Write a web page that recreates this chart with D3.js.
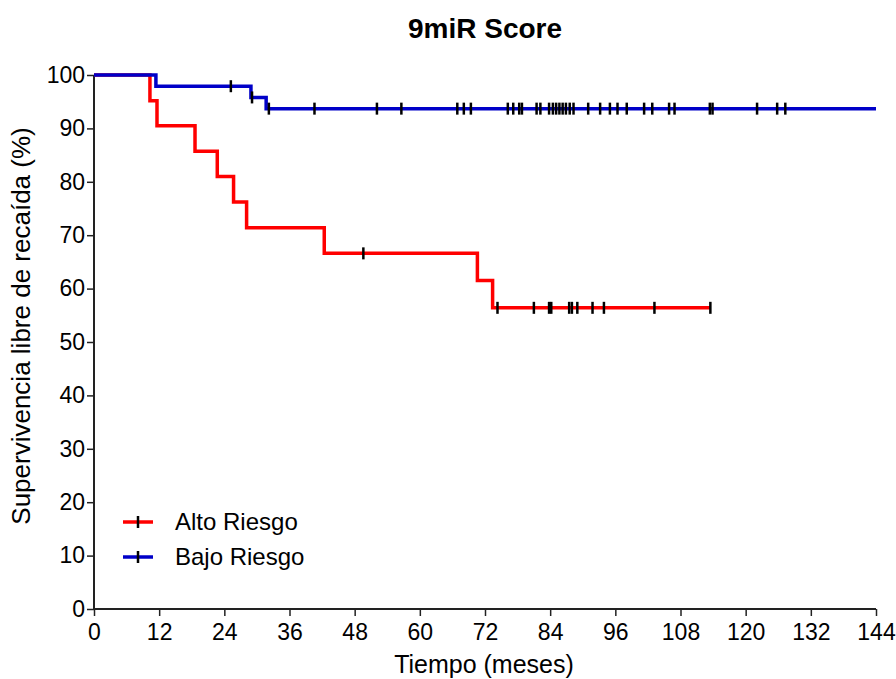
<!DOCTYPE html>
<html>
<head>
<meta charset="utf-8">
<script src="https://cdn.jsdelivr.net/npm/d3@7"></script>
<style>
  body { margin: 0; background: #fff; }
  svg text { font-family: "Liberation Sans", Arial, sans-serif; fill: #000; }
</style>
</head>
<body>
<div id="chart"></div>
<script>
// Kaplan-Meier steps
const altoTimes = [0, 10.3, 11.6, 18.6, 22.7, 25.7, 28.1, 42.4, 70.6, 73.4, 113.5];
const altoSurv = [100, 95.2, 90.5, 85.7, 81.0, 76.2, 71.4, 66.6, 61.5, 56.4, 56.4];
const altoCensor = [49.6, 74.3, 81.0, 83.8, 84.2, 87.5, 88.0, 89.0, 91.8, 93.9, 103.2, 113.5];

const bajoTimes = [0, 11.4, 28.9, 31.7, 144];
const bajoSurv = [100, 97.9, 95.8, 93.7, 93.7];
const bajoCensor = [25.2, 29.1, 32.2, 40.6, 52.1, 56.6, 66.9, 68.1, 69.4, 76.2, 77.2, 78.3, 78.8,
  81.5, 82.2, 83.8, 84.5, 85.1, 85.7, 86.3, 86.9, 87.6, 88.3, 91.0, 93.2, 95.0, 96.4, 98.1,
  101.3, 102.8, 105.9, 106.9, 113.4, 113.9, 122.1, 125.8, 127.3];

const xTicks = [0, 12, 24, 36, 48, 60, 72, 84, 96, 108, 120, 132, 144];
const yTicks = [0, 10, 20, 30, 40, 50, 60, 70, 80, 90, 100];

const series = [
  { name: 'Alto Riesgo', color: '#ff0000', times: altoTimes, surv: altoSurv, censor: altoCensor },
  { name: 'Bajo Riesgo', color: '#0000c8', times: bajoTimes, surv: bajoSurv, censor: bajoCensor }
];

const width = 896, height = 679;
const margin = { top: 75, right: 20, bottom: 70, left: 94 };
const innerW = 876 - margin.left;
const innerH = 609 - margin.top;

const svg = d3.select('#chart')
  .append('svg')
  .attr('width', width)
  .attr('height', height);

const g = svg.append('g')
  .attr('transform', 'translate(' + margin.left + ',' + margin.top + ')');

const x = d3.scaleLinear().domain([0, 144]).range([0, innerW]);
const y = d3.scaleLinear().domain([0, 100]).range([innerH, 0]);

// axes
const xAxis = g.append('g')
  .attr('transform', 'translate(0,' + innerH + ')')
  .call(d3.axisBottom(x).tickValues(xTicks).tickSize(7).tickPadding(8));
const yAxis = g.append('g')
  .call(d3.axisLeft(y).tickValues(yTicks).tickSize(7).tickPadding(2));

[xAxis, yAxis].forEach(a => {
  a.select('.domain').attr('stroke', '#222').attr('stroke-width', 2);
  a.selectAll('.tick line').attr('stroke', '#222').attr('stroke-width', 1.5);
  a.selectAll('text').attr('font-size', 23).attr('font-family', '"Liberation Sans", Arial, sans-serif');
});
// remove outer tick stub of domain path
xAxis.select('.domain').attr('d', 'M0,0H' + innerW);
yAxis.select('.domain').attr('d', 'M0,' + innerH + 'V0');

// curves
const line = d3.line()
  .x(d => x(d[0]))
  .y(d => y(d[1]))
  .curve(d3.curveStepAfter);

function survAt(s, t) {
  let v = s.surv[0];
  for (let i = 0; i < s.times.length; i++) {
    if (s.times[i] <= t) v = s.surv[i];
  }
  return v;
}

series.forEach(s => {
  const pts = s.times.map((t, i) => [t, s.surv[i]]);
  g.append('path')
    .datum(pts)
    .attr('fill', 'none')
    .attr('stroke', s.color)
    .attr('stroke-width', 3.5)
    .attr('d', line);
});

series.forEach(s => {
  g.selectAll(null)
    .data(s.censor)
    .enter().append('line')
    .attr('x1', d => x(d))
    .attr('x2', d => x(d))
    .attr('y1', d => y(survAt(s, d)) - 6)
    .attr('y2', d => y(survAt(s, d)) + 6)
    .attr('stroke', '#000')
    .attr('stroke-width', 2.5);
});

// title and axis labels
svg.append('text')
  .attr('x', 485).attr('y', 38)
  .attr('text-anchor', 'middle')
  .attr('font-size', 28)
  .attr('font-weight', 'bold')
  .text('9miR Score');

svg.append('text')
  .attr('x', 484).attr('y', 673)
  .attr('text-anchor', 'middle')
  .attr('font-size', 25)
  .text('Tiempo (meses)');

svg.append('text')
  .attr('transform', 'translate(30,' + 326 + ') rotate(-90)')
  .attr('text-anchor', 'middle')
  .attr('font-size', 26)
  .text('Supervivencia libre de recaída (%)');

// legend
const legend = svg.append('g');
series.forEach((s, i) => {
  const ly = 522 + i * 35;
  legend.append('line')
    .attr('x1', 123).attr('x2', 153)
    .attr('y1', ly).attr('y2', ly)
    .attr('stroke', s.color).attr('stroke-width', 3.5);
  legend.append('line')
    .attr('x1', 138).attr('x2', 138)
    .attr('y1', ly - 6).attr('y2', ly + 6)
    .attr('stroke', '#000').attr('stroke-width', 2.5);
  legend.append('text')
    .attr('x', 175).attr('y', ly + 8)
    .attr('font-size', 24)
    .text(s.name);
});
</script>
</body>
</html>
